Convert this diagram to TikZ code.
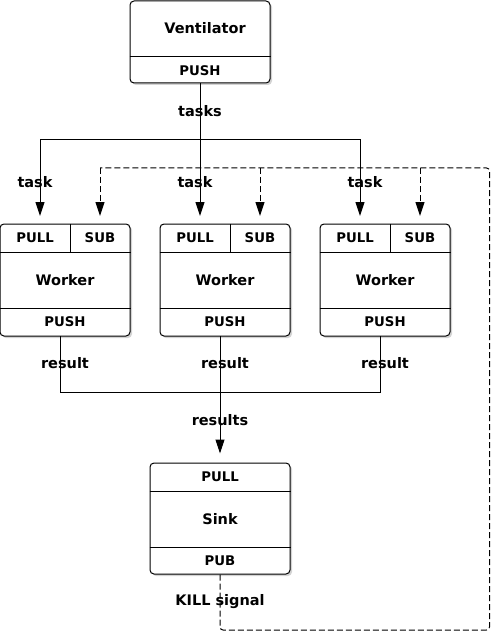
\documentclass[tikz,border=0pt]{standalone}
\usepackage{fontspec}
\setmainfont{DejaVu Sans}
\usetikzlibrary{arrows.meta,shadows,positioning}

\tikzset{
  box/.style={draw, rounded corners=4pt, fill=white, line width=1pt, inner sep=0pt,
    drop shadow={shadow xshift=2pt, shadow yshift=-2pt, opacity=0.35}},
  port/.style={font=\bfseries\fontsize{13.3}{13}\selectfont, inner sep=0pt},
  title/.style={font=\bfseries\fontsize{14.5}{14}\selectfont, inner sep=0pt},
  lbl/.style={font=\bfseries\fontsize{14.5}{14}\selectfont, inner sep=0pt},
  wire/.style={line width=1pt},
  flow/.style={wire, -{Triangle[length=14pt,width=9pt]}},
  killwire/.style={wire, dash pattern=on 6pt off 3pt, rounded corners=3pt},
  killflow/.style={killwire, -{Triangle[length=14pt,width=9pt]}},
}

\begin{document}
\begin{tikzpicture}[x=1pt,y=-1pt]
\useasboundingbox (0,0) rectangle (491,631);

% The ventilator
\node[box, minimum width=140pt, minimum height=82pt] (vent) at (200,42) {};
\draw[wire] (vent.west |- 0,57) -- (vent.east |- 0,57);
\node[title] (ventname) at (205,28) {Ventilator};
\node[port] (ventpush) at (200,71) {PUSH};

% The workers
\foreach \i in {0,1,2}
{
  \pgfmathsetmacro{\x}{65+160*\i}
  \node[box, minimum width=130pt, minimum height=112pt] (w\i) at (\x,280) {};
  \draw[wire] (w\i.west |- 0,252) -- (w\i.east |- 0,252);
  \draw[wire] (w\i.west |- 0,308) -- (w\i.east |- 0,308);
  \draw[wire] (\x+5,224) -- (\x+5,252);
  \node[port] (pull\i) at (\x-30,238) {PULL};
  \node[port] (sub\i) at (\x+35,238) {SUB};
  \node[title] (wname\i) at (\x,280) {Worker};
  \node[port] (push\i) at (\x,322) {PUSH};
  \coordinate (pin\i) at (\x-25,216);
  \coordinate (sin\i) at (\x+35,216);
  \coordinate (pout\i) at (\x-5,336);
}

% The sink
\node[box, minimum width=140pt, minimum height=111pt] (sink) at (220,518.5) {};
\draw[wire] (sink.west |- 0,491) -- (sink.east |- 0,491);
\draw[wire] (sink.west |- 0,547) -- (sink.east |- 0,547);
\node[port] (sinkpull) at (220,477) {PULL};
\node[title] (sinkname) at (220,519) {Sink};
\node[port] (sinkpub) at (220,561) {PUB};

% Tasks
\coordinate (fork) at (200,140);
\draw[wire] (vent.south) -- (fork);
\foreach \i in {0,1,2}
  \draw[flow] (fork) -| (pin\i);
\node[lbl] (tasks) at (200,111) {tasks};
\node[lbl] (task0) at (35,182) {task};
\node[lbl] (task1) at (195,182) {task};
\node[lbl] (task2) at (365,182) {task};

% Results
\coordinate (join) at (220,392);
\foreach \i in {0,1,2}
  \draw[wire] (pout\i) |- (join);
\draw[flow, shorten >=9pt] (join) -- (sink.north);
\node[lbl] (result0) at (65,363) {result};
\node[lbl] (result1) at (225,363) {result};
\node[lbl] (result2) at (385,363) {result};
\node[lbl] (results) at (220,420) {results};

% Kill signal
\coordinate (kcorner) at (489.5,630);
\coordinate (ktop) at (489.5,168);
\draw[killwire] (sink.south) |- (kcorner) -- (ktop) -- (sin0 |- ktop);
\foreach \i in {0,1,2}
  \draw[killflow] (sin\i |- ktop) -- (sin\i);
\node[lbl] (kill) at (220,602) {KILL signal};

\end{tikzpicture}
\end{document}
